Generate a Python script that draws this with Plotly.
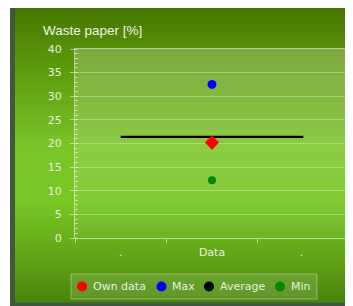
import plotly.graph_objects as go

# ---- data ----
categories = [".", "Data", ". "]
own_data = [None, 20.2, None]
max_vals = [None, 32.5, None]
average = [21.4, 21.4, 21.4]
min_vals = [None, 12.2, None]
y_ticks = [0, 5, 10, 15, 20, 25, 30, 35, 40]
legend_names = ["Own data", "Max", "Average", "Min"]
legend_colors = ["#ff0000", "#0000ff", "#000000", "#008a00"]

OFF = 8  # page body margin
W, H = 353 - OFF, 306 - OFF
# plot area in page pixels
PX0, PX1, PY0, PY1 = 75, 349, 49, 238
L, T = PX0 - OFF, PY0 - OFF
R, B = W - (PX1 - OFF), H - (PY1 - OFF)


def px(x):
    return (x - PX0) / (PX1 - PX0)


def py(y):
    return (PY1 - y) / (PY1 - PY0)


def lerp(a, b, t):
    return a + (b - a) * t


def grad_color(y, stops):
    for (y0, c0), (y1, c1) in zip(stops, stops[1:]):
        if y0 <= y <= y1:
            t = (y - y0) / (y1 - y0) if y1 > y0 else 0
            return tuple(int(round(lerp(c0[i], c1[i], t))) for i in range(3))
    return stops[-1][1]


panel_stops = [
    (8, (70, 116, 0)),
    (60, (90, 150, 10)),
    (150, (122, 198, 40)),
    (200, (120, 200, 36)),
    (250, (100, 170, 24)),
    (302, (74, 132, 12)),
]

shapes = []
# outer dark frame
shapes.append(dict(type="rect", xref="paper", yref="paper", x0=px(10), x1=px(354),
                   y0=py(306), y1=py(0), fillcolor="#3e5a3c", line=dict(width=0), layer="below"))
# panel gradient
step = 4
y = 0
while y < 302:
    y2 = min(y + step, 302)
    c = grad_color(max((y + y2) / 2, 8), panel_stops)
    shapes.append(dict(type="rect", xref="paper", yref="paper", x0=px(15), x1=px(354),
                       y0=py(y2 + 0.5), y1=py(y), fillcolor="rgb(%d,%d,%d)" % c,
                       line=dict(width=0), layer="below"))
    y = y2
# plot-area light overlay
y = PY0
while y < PY1:
    y2 = min(y + 3, PY1)
    t = ((y + y2) / 2 - PY0) / (PY1 - PY0)
    a = lerp(0.24, 0.04, t)
    shapes.append(dict(type="rect", xref="paper", yref="paper", x0=0, x1=1,
                       y0=py(y2), y1=py(y), fillcolor="rgba(255,255,255,%.3f)" % a,
                       line=dict(width=0), layer="below"))
    y = y2
# legend box
shapes.append(dict(type="rect", xref="paper", yref="paper", x0=px(71), x1=px(317),
                   y0=py(299), y1=py(274), fillcolor="rgba(255,255,255,0.12)",
                   line=dict(color="rgba(255,255,255,0.35)", width=1), layer="below"))

legend_sym_x = [82, 161.5, 209, 280]
legend_txt_x = [91, 170, 218, 289]
legend_y = 286.5
annotations = []
for name, col, sx, tx in zip(legend_names, legend_colors, legend_sym_x, legend_txt_x):
    shapes.append(dict(type="circle", xref="paper", yref="paper", xsizemode="pixel",
                       ysizemode="pixel", xanchor=px(sx), yanchor=py(legend_y),
                       x0=-5, x1=5, y0=-5, y1=5, fillcolor=col, line=dict(width=0)))
    annotations.append(dict(text=name, xref="paper", yref="paper", x=px(tx), y=py(legend_y),
                            xanchor="left", yanchor="middle", showarrow=False,
                            font=dict(family="DejaVu Sans", size=11, color="#e6f0dc")))

annotations.append(dict(text="Waste paper [%]", xref="paper", yref="paper", x=px(41), y=py(31),
                        xanchor="left", yanchor="middle", showarrow=False,
                        font=dict(family="Liberation Sans", size=13.5, color="#eef5e6")))

fig = go.Figure()
fig.add_trace(go.Scatter(x=categories, y=average, mode="lines", name="Average",
                         line=dict(color="#000000", width=2.2), showlegend=False))
fig.add_trace(go.Scatter(x=categories, y=max_vals, mode="markers", name="Max",
                         marker=dict(color="#0000ff", size=9, symbol="circle"), showlegend=False))
fig.add_trace(go.Scatter(x=categories, y=min_vals, mode="markers", name="Min",
                         marker=dict(color="#008a00", size=8, symbol="circle"), showlegend=False))
fig.add_trace(go.Scatter(x=categories, y=own_data, mode="markers", name="Own data",
                         marker=dict(color="#ff0000", size=11, symbol="diamond"), showlegend=False))

axis_line = "rgba(255,255,255,0.55)"
fig.update_layout(
    width=W, height=H,
    margin=dict(l=L, r=R, t=T, b=B, pad=0),
    paper_bgcolor="#ffffff",
    plot_bgcolor="rgba(0,0,0,0)",
    showlegend=False,
    shapes=shapes,
    annotations=annotations,
    font=dict(family="DejaVu Sans", size=11, color="#e6f0dc"),
    xaxis=dict(type="category", categoryorder="array", categoryarray=categories,
               range=[-0.5, 2.5], tickson="boundaries", ticks="outside", ticklen=4,
               tickcolor=axis_line, showgrid=False, showline=True, linecolor=axis_line,
               mirror=True, ticklabelstandoff=4,
               tickfont=dict(family="DejaVu Sans", size=11, color="#e6f0dc")),
    yaxis=dict(range=[0, 40], tickvals=y_ticks, ticks="outside", ticklen=4,
               tickcolor=axis_line, showgrid=True, gridcolor="rgba(255,255,255,0.3)",
               gridwidth=1, zeroline=False, showline=True, linecolor=axis_line, mirror=True,
               ticklabelstandoff=6,
               minor=dict(dtick=1, ticks="inside", ticklen=3, tickcolor=axis_line,
                          showgrid=False),
               tickfont=dict(family="DejaVu Sans", size=11, color="#e6f0dc")),
)

fig.write_html("out.html")
